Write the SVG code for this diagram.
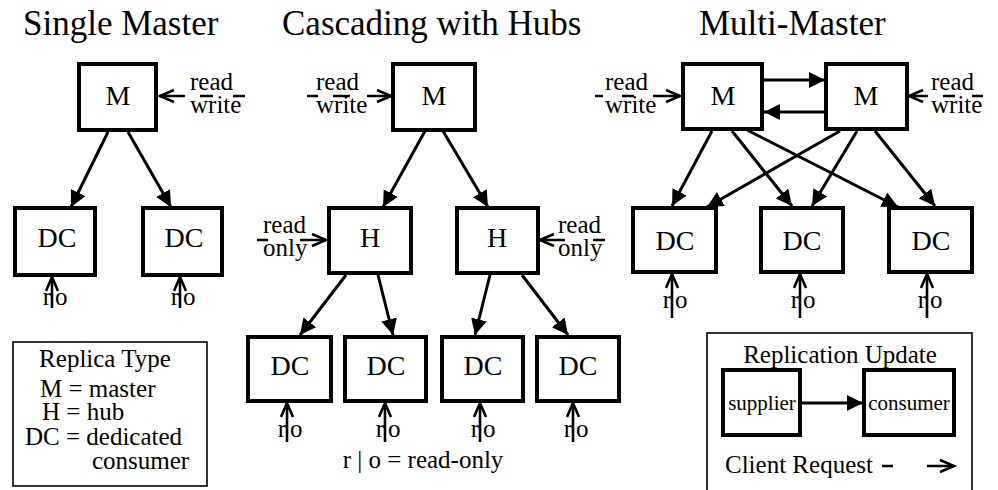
<svg xmlns="http://www.w3.org/2000/svg" width="998" height="490" viewBox="0 0 998 490">
  <defs>
    <!-- solid head for replication updates -->
    <marker id="solid" markerUnits="userSpaceOnUse" markerWidth="20" markerHeight="20" refX="16" refY="8" orient="auto">
      <path d="M0,0 L16,8 L0,16 z" fill="#000"/>
    </marker>
    <!-- open chevron for client requests -->
    <marker id="open" markerUnits="userSpaceOnUse" markerWidth="20" markerHeight="20" refX="15" refY="7" orient="auto">
      <path d="M1,1 L15,7 L1,13" fill="none" stroke="#000" stroke-width="2.6"/>
    </marker>
  </defs>
  <style>
    text { font-family: "Liberation Serif", "DejaVu Serif", serif; fill: #000; }
    .title { font-size: 35px; }
    .lbl { font-size: 28px; text-anchor: middle; }
    .ann { font-size: 25px; }
    .sm { font-size: 21px; text-anchor: middle; }
    .box { fill: #fff; stroke: #000; stroke-width: 4; }
    .frame { fill: #fff; stroke: #000; stroke-width: 1.6; }
    .upd { stroke: #000; stroke-width: 3; fill: none; marker-end: url(#solid); }
    .req { stroke: #000; stroke-width: 2.6; fill: none; marker-end: url(#open); }
  </style>
  <rect width="998" height="490" fill="#fff"/>

  <!-- section headings -->
  <text class="title" x="23" y="35">Single Master</text>
  <text class="title" x="282" y="35">Cascading with Hubs</text>
  <text class="title" x="699" y="35">Multi-Master</text>

  <!-- connectors -->
  <g id="connectors">
    <!-- single master -->
    <line class="upd" x1="108" y1="132" x2="71" y2="207"/>
    <line class="upd" x1="128" y1="132" x2="171" y2="207"/>
    <!-- cascading -->
    <line class="upd" x1="425" y1="131" x2="383" y2="207"/>
    <line class="upd" x1="443" y1="131" x2="488" y2="207"/>
    <line class="upd" x1="346" y1="275" x2="300" y2="335"/>
    <line class="upd" x1="378" y1="275" x2="393" y2="335"/>
    <line class="upd" x1="490" y1="275" x2="475" y2="335"/>
    <line class="upd" x1="522" y1="275" x2="568" y2="335"/>
    <!-- multi-master -->
    <line class="upd" x1="763" y1="80" x2="825" y2="80"/>
    <line class="upd" x1="825" y1="112" x2="764" y2="112"/>
    <line class="upd" x1="712" y1="131" x2="672" y2="206"/>
    <line class="upd" x1="732" y1="131" x2="792" y2="206"/>
    <line class="upd" x1="747" y1="130" x2="898" y2="207"/>
    <line class="upd" x1="840" y1="131" x2="707" y2="207"/>
    <line class="upd" x1="857" y1="131" x2="812" y2="206"/>
    <line class="upd" x1="875" y1="131" x2="935" y2="206"/>

    <!-- read/write and read-only client requests, broken by the labels -->
    <line class="req" x1="245" y1="96" x2="160" y2="96" stroke-dasharray="12 20 13 15 25 100"/>
    <line class="req" x1="307" y1="96" x2="391" y2="96" stroke-dasharray="11 15 17 17 30 100"/>
    <line class="req" x1="257" y1="240" x2="326" y2="240" stroke-dasharray="11 32 30 100"/>
    <line class="req" x1="605" y1="240" x2="540" y2="240" stroke-dasharray="12 28 30 100"/>
    <line class="req" x1="595" y1="96" x2="680" y2="96" stroke-dasharray="8 19 12 19 30 100"/>
    <line class="req" x1="983" y1="96" x2="909" y2="96" stroke-dasharray="11 17 12 15 25 100"/>

    <!-- read-only requests into dedicated consumers -->
    <line class="req" x1="52" y1="308" x2="52" y2="277"/>
    <line class="req" x1="180" y1="308" x2="180" y2="277"/>
    <line class="req" x1="287" y1="442" x2="287" y2="403"/>
    <line class="req" x1="385" y1="442" x2="385" y2="403"/>
    <line class="req" x1="480" y1="442" x2="480" y2="403"/>
    <line class="req" x1="573" y1="442" x2="573" y2="403"/>
    <line class="req" x1="672" y1="318" x2="672" y2="274"/>
    <line class="req" x1="800" y1="318" x2="800" y2="274"/>
    <line class="req" x1="927" y1="318" x2="927" y2="274"/>
  </g>

  <!-- request labels -->
  <g id="request-labels" class="ann">
    <text class="ann" x="190" y="90">read</text>
    <text class="ann" x="190" y="113">write</text>
    <text class="ann" x="316" y="90">read</text>
    <text class="ann" x="316" y="113">write</text>
    <text class="ann" x="263" y="233">read</text>
    <text class="ann" x="263" y="256">only</text>
    <text class="ann" x="558" y="233">read</text>
    <text class="ann" x="558" y="256">only</text>
    <text class="ann" x="605" y="90">read</text>
    <text class="ann" x="605" y="113">write</text>
    <text class="ann" x="931" y="90">read</text>
    <text class="ann" x="931" y="113">write</text>

    <text class="ann" x="51" y="305" text-anchor="end">r</text><text class="ann" x="55" y="305">o</text>
    <text class="ann" x="179" y="305" text-anchor="end">r</text><text class="ann" x="183" y="305">o</text>
    <text class="ann" x="286" y="437" text-anchor="end">r</text><text class="ann" x="290" y="437">o</text>
    <text class="ann" x="384" y="437" text-anchor="end">r</text><text class="ann" x="388" y="437">o</text>
    <text class="ann" x="479" y="437" text-anchor="end">r</text><text class="ann" x="483" y="437">o</text>
    <text class="ann" x="572" y="437" text-anchor="end">r</text><text class="ann" x="576" y="437">o</text>
    <text class="ann" x="671" y="308" text-anchor="end">r</text><text class="ann" x="675" y="308">o</text>
    <text class="ann" x="799" y="308" text-anchor="end">r</text><text class="ann" x="803" y="308">o</text>
    <text class="ann" x="926" y="308" text-anchor="end">r</text><text class="ann" x="930" y="308">o</text>

    <text class="ann" x="423" y="468" text-anchor="middle">r | o = read-only</text>
  </g>

  <!-- single master nodes -->
  <g id="sm-m"><rect class="box" x="79" y="64" width="77" height="66"/><text class="lbl" x="118" y="105">M</text></g>
  <g id="sm-dc1"><rect class="box" x="15" y="208" width="80" height="67"/><text class="lbl" x="57" y="247">DC</text></g>
  <g id="sm-dc2"><rect class="box" x="143" y="208" width="79" height="67"/><text class="lbl" x="184" y="247">DC</text></g>

  <!-- cascading nodes -->
  <g id="cas-m"><rect class="box" x="393" y="64" width="82" height="66"/><text class="lbl" x="434" y="105">M</text></g>
  <g id="cas-h1"><rect class="box" x="329" y="208" width="82" height="65"/><text class="lbl" x="370" y="247">H</text></g>
  <g id="cas-h2"><rect class="box" x="457" y="208" width="81" height="65"/><text class="lbl" x="497" y="247">H</text></g>
  <g id="cas-dc1"><rect class="box" x="248" y="337" width="83" height="64"/><text class="lbl" x="290" y="375">DC</text></g>
  <g id="cas-dc2"><rect class="box" x="345" y="337" width="81" height="64"/><text class="lbl" x="386" y="375">DC</text></g>
  <g id="cas-dc3"><rect class="box" x="442" y="337" width="81" height="64"/><text class="lbl" x="483" y="375">DC</text></g>
  <g id="cas-dc4"><rect class="box" x="537" y="337" width="82" height="64"/><text class="lbl" x="578" y="375">DC</text></g>

  <!-- multi-master nodes -->
  <g id="mm-m1"><rect class="box" x="683" y="64" width="79" height="65"/><text class="lbl" x="723" y="105">M</text></g>
  <g id="mm-m2"><rect class="box" x="826" y="64" width="81" height="65"/><text class="lbl" x="866" y="105">M</text></g>
  <g id="mm-dc1"><rect class="box" x="633" y="208" width="83" height="64"/><text class="lbl" x="675" y="250">DC</text></g>
  <g id="mm-dc2"><rect class="box" x="761" y="208" width="82" height="64"/><text class="lbl" x="802" y="250">DC</text></g>
  <g id="mm-dc3"><rect class="box" x="889" y="208" width="83" height="64"/><text class="lbl" x="931" y="250">DC</text></g>

  <!-- replica type key -->
  <g id="key-types">
    <rect class="frame" x="13" y="342" width="194" height="144"/>
    <text class="ann" x="105" y="367" text-anchor="middle">Replica Type</text>
    <text class="ann" x="40" y="397">M = master</text>
    <text class="ann" x="42" y="420">H = hub</text>
    <text class="ann" x="25" y="445">DC = dedicated</text>
    <text class="ann" x="92" y="469">consumer</text>
  </g>

  <!-- arrow key -->
  <g id="key-arrows">
    <rect class="frame" x="707" y="333" width="265" height="170"/>
    <text class="ann" x="840" y="363" text-anchor="middle">Replication Update</text>
    <rect class="box" x="723" y="370" width="77" height="65"/>
    <text class="sm" x="762" y="410">supplier</text>
    <rect class="box" x="864" y="370" width="90" height="65"/>
    <text class="sm" x="909" y="410">consumer</text>
    <line class="upd" x1="800" y1="403" x2="863" y2="403"/>
    <text class="ann" x="725" y="473">Client Request</text>
    <line class="req" x1="882" y1="466" x2="954" y2="466" stroke-dasharray="11 34 30 100"/>
  </g>
</svg>
